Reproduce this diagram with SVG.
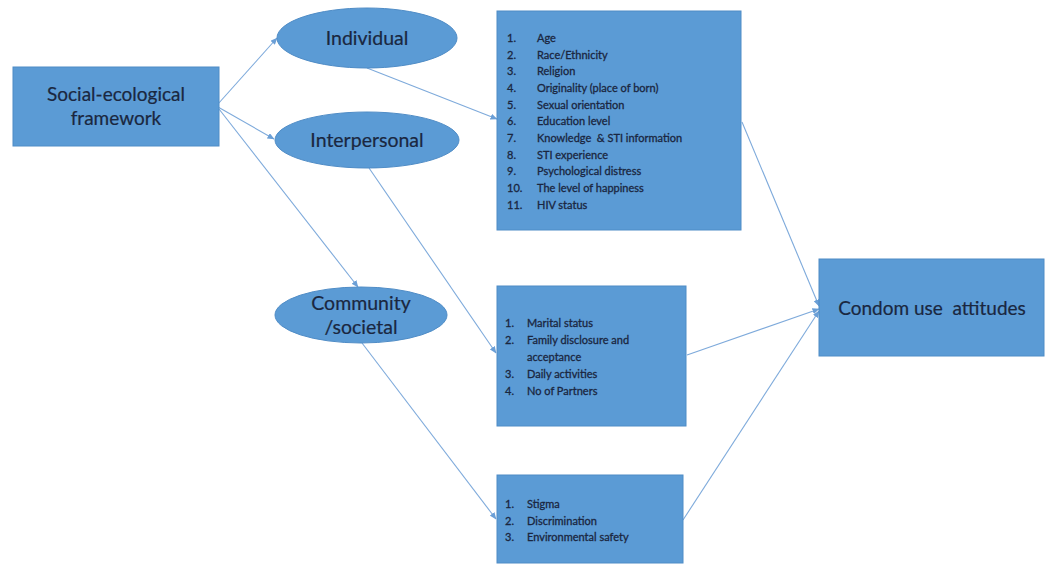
<svg xmlns="http://www.w3.org/2000/svg" width="1049" height="565" viewBox="0 0 1049 565">
  <style>
    .box { fill: #5b9bd5; stroke: #4f8cc6; stroke-width: 1; }
    .oval { fill: #5b9bd5; stroke: #4f8cc6; stroke-width: 1; }
    .big { font-family: Lato, "Open Sans", "Liberation Sans", sans-serif; fill: #1a2740; text-anchor: middle; stroke: #1a2740; stroke-width: 0.2; }
    .item { font-family: Lato, "Open Sans", "Liberation Sans", sans-serif; font-size: 11px; fill: #1a2640; stroke: #1a2640; stroke-width: 0.3; }
    .link { stroke: #7eaadb; stroke-width: 1.1; fill: none; marker-end: url(#arrow); }
  </style>
  <defs>
    <marker id="arrow" markerWidth="7" markerHeight="6" refX="6.5" refY="3" orient="auto" markerUnits="userSpaceOnUse">
      <path d="M0,0 L7,3 L0,6 Z" fill="#6b9fd6"/>
    </marker>
  </defs>
  <rect width="1049" height="565" fill="#ffffff"/>

  <g id="connectors">
    <line class="link" x1="218" y1="104" x2="277" y2="38"/>
    <line class="link" x1="218" y1="107" x2="274" y2="139"/>
    <line class="link" x1="219" y1="109" x2="358" y2="287"/>
    <line class="link" x1="367" y1="68" x2="497" y2="119"/>
    <line class="link" x1="369" y1="168" x2="496" y2="353"/>
    <line class="link" x1="362" y1="343" x2="496" y2="519"/>
    <line class="link" x1="742" y1="122" x2="819" y2="306"/>
    <line class="link" x1="687" y1="355" x2="819" y2="309"/>
    <line class="link" x1="683" y1="520" x2="819" y2="311"/>
  </g>

  <g id="framework">
    <rect class="box" x="13" y="67" width="206" height="79"/>
    <text class="big" font-size="19" x="116" y="101">Social-ecological</text>
    <text class="big" font-size="19" x="116" y="125">framework</text>
  </g>

  <g id="individual">
    <ellipse class="oval" cx="367" cy="38" rx="90" ry="30"/>
    <text class="big" font-size="19.5" x="367" y="45">Individual</text>
  </g>

  <g id="interpersonal">
    <ellipse class="oval" cx="367" cy="140" rx="92" ry="28"/>
    <text class="big" font-size="19.5" x="367" y="147">Interpersonal</text>
  </g>

  <g id="community">
    <ellipse class="oval" cx="361" cy="315" rx="86" ry="28"/>
    <text class="big" font-size="19.5" x="361" y="310">Community</text>
    <text class="big" font-size="19.5" x="361" y="334">/societal</text>
  </g>

  <g id="individual-factors">
    <rect class="box" x="497" y="11" width="244" height="219"/>
    <g class="item">
      <text x="507" y="42">1.</text><text x="537" y="42">Age</text>
      <text x="507" y="59">2.</text><text x="537" y="59">Race/Ethnicity</text>
      <text x="507" y="75">3.</text><text x="537" y="75">Religion</text>
      <text x="507" y="92">4.</text><text x="537" y="92">Originality (place of born)</text>
      <text x="507" y="109">5.</text><text x="537" y="109">Sexual orientation</text>
      <text x="507" y="125">6.</text><text x="537" y="125">Education level</text>
      <text x="507" y="142">7.</text><text x="537" y="142" xml:space="preserve">Knowledge  &amp; STI information</text>
      <text x="507" y="159">8.</text><text x="537" y="159">STI experience</text>
      <text x="507" y="175">9.</text><text x="537" y="175">Psychological distress</text>
      <text x="507" y="192">10.</text><text x="537" y="192">The level of happiness</text>
      <text x="507" y="209">11.</text><text x="537" y="209">HIV status</text>
    </g>
  </g>

  <g id="interpersonal-factors">
    <rect class="box" x="497" y="286" width="189" height="140"/>
    <g class="item">
      <text x="505" y="327">1.</text><text x="527" y="327">Marital status</text>
      <text x="505" y="344">2.</text><text x="527" y="344">Family disclosure and</text>
      <text x="527" y="361">acceptance</text>
      <text x="505" y="378">3.</text><text x="527" y="378">Daily activities</text>
      <text x="505" y="395">4.</text><text x="527" y="395">No of Partners</text>
    </g>
  </g>

  <g id="community-factors">
    <rect class="box" x="497" y="475" width="186" height="88"/>
    <g class="item">
      <text x="505" y="508">1.</text><text x="527" y="508">Stigma</text>
      <text x="505" y="525">2.</text><text x="527" y="525">Discrimination</text>
      <text x="505" y="541">3.</text><text x="527" y="541">Environmental safety</text>
    </g>
  </g>

  <g id="attitudes">
    <rect class="box" x="819" y="259" width="225" height="97"/>
    <text class="big" font-size="19" x="932" y="315" xml:space="preserve">Condom use  attitudes</text>
  </g>
</svg>
